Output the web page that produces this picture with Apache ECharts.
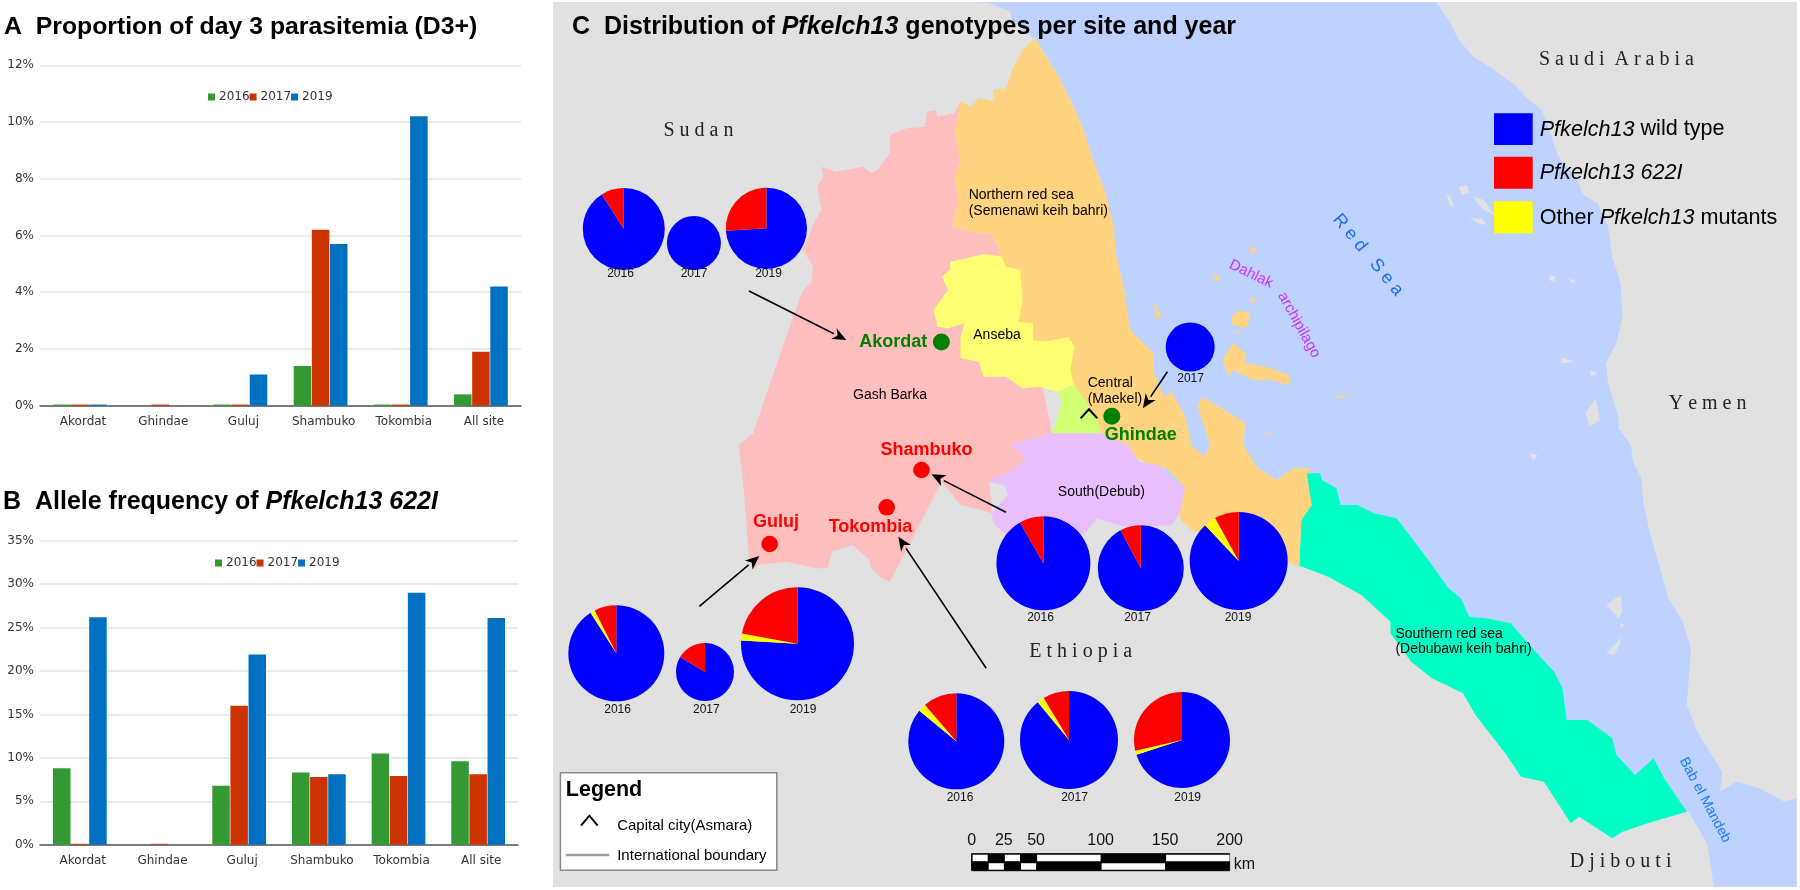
<!DOCTYPE html>
<html><head><meta charset="utf-8">
<style>html,body{margin:0;padding:0;background:#fff}#c{width:1800px;height:890px}</style>
<script src="https://cdn.jsdelivr.net/npm/echarts@6/dist/echarts.min.js"></script>
</head><body><div id="c"></div>
<script>
// ---------- data ----------
const categories = ['Akordat','Ghindae','Guluj','Shambuko','Tokombia','All site'];
const years = ['2016','2017','2019'];
const d3_2016 = [0.04,null,0.04,1.4,0.04,0.4];
const d3_2017 = [0.04,0.04,0.04,6.2,0.04,1.9];
const d3_2019 = [0.04,null,1.1,5.7,10.2,4.2];
const allele_2016 = [8.8,null,6.8,8.3,10.5,9.6];
const allele_2017 = [0.1,0.1,16,7.8,7.9,8.1];
const allele_2019 = [26.2,null,21.9,8.1,29,26.1];
const genotypes = ['Pfkelch13 wild type','Other Pfkelch13 mutants','Pfkelch13 622I'];
// [wild type, other mutants, 622I] in percent
const akordat2016 = [91,0,9];
const akordat2017 = [100,0,0];
const akordat2019 = [74,0,26];
const ghindae2017 = [100,0,0];
const shambuko2016 = [91.7,0,8.3];
const shambuko2017 = [92.2,0,7.8];
const shambuko2019 = [88,4,8];
const guluj2016 = [91,1.6,7.4];
const guluj2017 = [83.6,0,16.4];
const guluj2019 = [75.9,2,22.1];
const tokombia2016 = [86,2.7,11.3];
const tokombia2017 = [89,2.4,8.6];
const tokombia2019 = [70,1.4,28.6];

// ---------- layout ----------
const F='"Liberation Sans",Arial,sans-serif', S='"Liberation Serif",serif', D='"DejaVu Sans",sans-serif';
const Z3=[550,0],Z4=[1150,0],Z5=[550,445],Z6=[1150,445];
const z=(Zo,pts)=>pts.map(p=>[Zo[0]+p[0]/2.412,Zo[1]+p[1]/3]);
const pies=[
 [akordat2016,623.8,229,41,'2016',620.5,274],
 [akordat2017,693.9,243,27,'2017',694,274],
 [akordat2019,766.4,228.3,40.6,'2019',768.5,274],
 [ghindae2017,1190.2,347,24.5,'2017',1190.6,379],
 [shambuko2016,1043.4,563.3,47,'2016',1040.5,617.3],
 [shambuko2017,1140.8,568.3,43,'2017',1137.5,617.3],
 [shambuko2019,1238.7,561,49,'2019',1238,617.3],
 [guluj2016,616.3,653.3,48,'2016',617.6,710],
 [guluj2017,705,672,29,'2017',706.3,710],
 [guluj2019,797.5,643.7,56.5,'2019',803,709.3],
 [tokombia2016,956.3,741.3,48,'2016',960,797.7],
 [tokombia2017,1069,740,49,'2017',1074.5,797.7],
 [tokombia2019,1182,740,48,'2019',1187.7,797.7]
];
const g=[];
const poly=(pts,fill,zz)=>g.push({type:'polygon',silent:true,z:zz||1,shape:{points:pts},style:{fill}});
const txt=(x,y,text,o)=>g.push({type:'text',silent:true,z:20,x,y,rotation:(o.rot||0)*Math.PI/180,
  style:Object.assign({text,fill:o.color||'#000',font:undefined,fontFamily:o.ff||F,fontSize:o.size||14,fontWeight:o.w||'normal',
    align:o.align||'center',verticalAlign:'middle',rich:o.rich},{})});
const circ=(x,y,r,fill)=>g.push({type:'circle',silent:true,z:15,shape:{cx:x,cy:y,r},style:{fill}});
const line=(pts,color,w)=>g.push({type:'polyline',silent:true,z:16,shape:{points:pts},style:{stroke:color,lineWidth:w,fill:null}});
const rect=(x,y,w,h,fill,stroke,lw)=>g.push({type:'rect',silent:true,z:14,shape:{x,y,width:w,height:h},style:{fill,stroke,lineWidth:lw||0}});
const arrow=(x1,y1,x2,y2)=>{
  const a=Math.atan2(y2-y1,x2-x1),L=14,W=6,bx=x2-L*Math.cos(a),by=y2-L*Math.sin(a);
  line([[x1,y1],[bx,by]],'#000',1.6);
  g.push({type:'polygon',silent:true,z:16,shape:{points:[[x2,y2],[bx-W*Math.sin(a),by+W*Math.cos(a)],[x2-10*Math.cos(a),y2-10*Math.sin(a)],[bx+W*Math.sin(a),by-W*Math.cos(a)]]},style:{fill:'#000'}});
};
// panel + land
rect(553,2,1244,885,'#e1e1e1');g[g.length-1].z=0;
// sea
poly([[975,2],[1436,2]].concat(
 z(Z4,[[720,60],[745,120],[780,170],[830,210],[880,255],[905,290],[945,330],[965,400],[985,470],[1030,540],[1045,585],[1080,610],[1105,680],[1115,770],[1135,850],[1140,950],[1125,1030],[1100,1090],[1105,1150],[1130,1250],[1130,1285],[1160,1335]]),
 z(Z6,[[1165,50],[1185,100],[1190,170],[1205,260],[1230,370],[1250,460],[1285,530],[1305,610],[1300,690],[1295,780],[1320,860],[1380,980],[1375,1040],[1415,1010],[1470,1030],[1530,1070],[1560,1060],[1560,1325],[1360,1325],[1345,1200],[1300,1100],[1000,1000],[500,400],[100,200]]),
 z(Z3,[[1400,1250],[1300,1000],[1250,500],[1170,115],[1140,90],[1115,60],[1110,35],[1060,10]])),'#bed2ff',1);
// gray islands
[[[745,560],[765,555],[770,578],[752,585]],[[780,590],[805,600],[835,650],[800,625]],[[715,585],[725,590],[735,625],[722,615]],[[770,655],[800,655],[812,675],[790,670]],[[965,825],[978,830],[975,845],[962,840]],[[1010,835],[1030,845],[1015,848]],[[990,1072],[1025,1085],[995,1090]],[[1060,1110],[1080,1120],[1065,1130]],[[1050,1240],[1075,1195],[1085,1260],[1060,1280]]].forEach(p=>poly(z(Z4,p),'#e1e1e1',2));
[[[1100,480],[1135,450],[1140,500],[1130,520]],[[1100,625],[1140,575],[1120,630]],[[1135,535],[1145,540],[1135,550]],[[915,25],[935,30],[925,48]]].forEach(p=>poly(z(Z6,p),'#e1e1e1',2));
// southern red sea
poly(z(Z6,[[375,85],[410,85],[415,105],[450,130],[460,180],[500,180],[540,205],[595,220],[650,310],[680,360],[720,430],[750,460],[770,515],[810,520],[870,535],[930,620],[975,680],[995,730],[1005,825],[1055,825],[1115,880],[1125,930],[1170,990],[1215,940],[1240,1000],[1295,1100],[1200,1135],[1140,1160],[1115,1180],[1035,1115],[1015,1135],[950,1010],[895,995],[860,930],[785,810],[755,745],[680,700],[630,650],[580,565],[580,530],[510,450],[430,395],[360,362],[365,225],[390,180]]),'#00ffc5',3);
// northern red sea
poly([].concat(
 z(Z3,[[1170,115],[1195,165],[1225,225],[1260,310],[1290,400],[1310,480],[1340,580],[1360,680],[1365,760],[1385,870],[1400,990],[1455,1060],[1455,1110],[1480,1190],[1500,1175]]),
 z(Z4,[[85,1250],[100,1335]]),
 z(Z6,[[130,35],[145,0]]),
 z(Z4,[[115,1220],[125,1190],[180,1230],[230,1270],[225,1335]]),
 z(Z6,[[260,70],[305,105],[345,70],[390,70],[378,85],[390,180],[365,225],[360,362],[330,350],[100,255],[75,225],[70,200],[85,130],[40,70],[0,60]]),
 z(Z3,[[1300,1300],[1200,1100],[1060,900],[1085,745],[1060,700],[1030,700],[970,680],[985,600],[975,530],[990,480],[975,400],[990,305],[1015,320],[1035,295],[1070,305],[1070,270],[1100,265],[1115,210],[1140,150]])),'#ffd37f',4);
// Dahlak islands
[[[175,1080],[200,1030],[230,1060],[230,1090],[280,1100],[335,1125],[335,1155],[290,1140],[250,1140],[200,1110],[190,1130]],[[195,955],[215,930],[240,940],[235,985],[200,975]],[[240,895],[262,900],[245,910]],[[150,825],[170,830],[160,845]],[[240,740],[258,745],[245,765]],[[445,1190],[490,1180],[455,1195]],[[285,1295],[295,1300],[285,1305]],[[8,905],[28,950],[15,955]],[[205,990],[220,995],[210,1000]]].forEach(p=>poly(z(Z4,p),'#ffd37f',4));
// Gash Barka
poly([].concat(
 z(Z3,[[990,305],[975,340],[935,350],[930,330],[910,335],[905,380],[860,385],[820,405],[820,460],[790,510],[775,520],[755,500],[690,515],[655,500],[660,530],[645,560],[655,630],[640,660],[610,750],[635,800],[630,850],[610,870],[590,940],[550,1080],[520,1190],[490,1300],[455,1335]]),
 z(Z5,[[465,100],[480,340],[492,375],[500,360],[570,350],[640,370],[670,370],[680,320],[730,300],[770,345],[775,370],[800,400],[820,410],[945,110],[990,180],[1040,195],[1065,205],[1060,110],[1110,80],[1150,40],[1110,0]]),
 z(Z3,[[1210,1300],[1180,1100],[1060,900],[1085,745],[1060,700],[1030,700],[970,680],[985,600],[975,530],[990,480],[975,400]])),'#ffbebe',5);
// Anseba
poly(z(Z3,[[965,785],[1020,770],[1050,762],[1090,770],[1100,800],[1135,810],[1140,900],[1130,965],[1165,970],[1165,1020],[1195,1025],[1250,1010],[1265,1040],[1255,1110],[1265,1155],[1225,1175],[1180,1160],[1140,1165],[1100,1130],[1045,1130],[1035,1085],[990,1075],[990,1010],[1000,970],[960,985],[935,980],[925,930],[960,870],[945,830],[965,810]]),'#ffff73',6);
// Central
poly(z(Z3,[[1225,1175],[1265,1155],[1290,1200],[1320,1260],[1328,1300],[1395,1335],[1300,1340],[1210,1305],[1235,1210]]),'#d1ff73',7);
// South
poly([].concat(
 z(Z3,[[1110,1335],[1210,1300],[1330,1300],[1395,1335]]),
 z(Z5,[[1420,50],[1470,60],[1500,100],[1530,130],[1520,200],[1500,240],[1400,250],[1370,240],[1320,220],[1290,265],[1200,300],[1100,270],[1070,235],[1065,205],[1105,150],[1095,120],[1060,110],[1070,100],[1110,80],[1150,40]])),'#e8beff',8);

// titles
const titleRich=(sz)=>({b:{fontFamily:F,fontSize:sz,fontWeight:'bold',fill:'#000'},i:{fontFamily:F,fontSize:sz,fontWeight:'bold',fontStyle:'italic',fill:'#000'}});
txt(4,27,'{b|A  Proportion of day 3 parasitemia (D3+)}',{align:'left',rich:titleRich(24.8)});
txt(3,502,'{b|B  Allele frequency of }{i|Pfkelch13 622I}',{align:'left',rich:titleRich(25)});
txt(572,27,'{b|C  Distribution of }{i|Pfkelch13}{b| genotypes per site and year}',{align:'left',rich:titleRich(25)});
// countries
txt(698.4,130.7,'S u d a n',{ff:S,size:20,color:'#222'});
txt(1616.4,59.3,'S a u d i  A r a b i a',{ff:S,size:20,color:'#222'});
txt(1707.6,403.3,'Y e m e n',{ff:S,size:20,color:'#222'});
txt(1080.7,651.7,'E t h i o p i a',{ff:S,size:20,color:'#222'});
txt(1620.6,861.7,'D j i b o u t i',{ff:S,size:20,color:'#222'});
// water
txt(1368,255,'R e d   S e a',{size:18,color:'#1a6ef5',rot:-50.5});
txt(1251,274,'Dahlak',{size:15,color:'#cc33ff',rot:-26});
txt(1299,325,'archipilago',{size:15,color:'#cc33ff',rot:-61});
txt(1705,800,'Bab el Mandeb',{size:14,color:'#1a7cff',rot:-62});
// regions
txt(968.7,195,'Northern red sea',{align:'left'});
txt(968.7,211,'(Semenawi keih bahri)',{align:'left'});
txt(997,335,'Anseba',{});
txt(890,395,'Gash Barka',{});
txt(1087.7,383,'Central',{align:'left'});
txt(1087.7,399,'(Maekel)',{align:'left'});
txt(1101.4,491.7,'South(Debub)',{});
txt(1395.4,633.7,'Southern red sea',{align:'left'});
txt(1395.4,649.3,'(Debubawi keih bahri)',{align:'left'});
// sites
txt(893.3,341.7,'Akordat',{size:18,w:'bold',color:'#008000'});
circ(941.4,342,8.5,'#008000');
txt(1140.8,435,'Ghindae',{size:18,w:'bold',color:'#008000'});
circ(1111.8,416.3,8.5,'#008000');
txt(926.5,450,'Shambuko',{size:18,w:'bold',color:'#ff0000'});
circ(921.5,470,8.3,'#ff0000');
txt(870.5,526.7,'Tokombia',{size:18,w:'bold',color:'#ff0000'});
circ(886.7,507.3,8.3,'#ff0000');
txt(776,522.3,'Guluj',{size:18,w:'bold',color:'#ff0000'});
circ(769.7,544,8.3,'#ff0000');
line([[1080.7,418.3],[1089,409.3],[1097.3,418.3]],'#000',2);
// arrows
arrow(749,291,846.4,340);
arrow(1167.4,371.7,1142.9,408.3);
arrow(1006,512.3,931.4,474.3);
arrow(699.3,606.3,759.4,556);
arrow(986.2,668.3,898.3,536.7);
// pie labels
pies.forEach(p=>txt(p[5],p[6],p[4],{size:12,color:'#111'}));
// genotype key
const LS=21.6;
const keyRich={n:{fontFamily:F,fontSize:LS,fill:'#000'},i:{fontFamily:F,fontSize:LS,fontStyle:'italic',fill:'#000'}};
rect(1494,113.3,38.7,31.7,'#0000ff');
rect(1494,156.7,38.7,32,'#ff0000');
rect(1494,201.3,38.7,32,'#ffff00');
txt(1539.7,129.5,'{i|Pfkelch13}{n| wild type}',{align:'left',rich:keyRich});
txt(1539.7,173,'{i|Pfkelch13 622I}',{align:'left',rich:keyRich});
txt(1539.7,218,'{n|Other }{i|Pfkelch13}{n| mutants}',{align:'left',rich:keyRich});
// map legend box
rect(560.4,772.7,216.4,97.6,'#fff','#888',1.5);
txt(565.8,790,'Legend',{align:'left',size:21.5,w:'bold'});
line([[581,825.7],[589.4,815.7],[597.7,825.7]],'#000',2);
txt(617.2,826,'Capital city(Asmara)',{align:'left',size:15});
line([[565.8,855],[609.3,855]],'#a0a0a0',2.5);
txt(617.2,855.7,'International boundary',{align:'left',size:15});
// scale bar
const sx=971.6,k=258/200,sy=853.7,sh=8.5;
const scaleBreaks=[0,12.5,25,37.5,50,100,150,200];
rect(sx,sy,258,sh*2,'#000','#000',1);
for(let i=0;i<scaleBreaks.length-1;i++){
  const a=sx+scaleBreaks[i]*k,w=(scaleBreaks[i+1]-scaleBreaks[i])*k;
  if(i%2===0) rect(a+1,sy+1,w-1,sh-2,'#fff'); else rect(a+1,sy+sh+1,w-1,sh-2,'#fff');
  g[g.length-1].z=15;
}
[0,25,50,100,150,200].forEach(v=>txt(sx+v*k,841,String(v),{size:16,color:'#111'}));
txt(1244.5,865,'km',{size:16,color:'#111'});

// ---------- option ----------
const barColors=['#339933','#cc3300','#0070c0'];
const axisX=(i)=>({type:'category',gridIndex:i,data:categories,axisTick:{show:false},
  axisLine:{lineStyle:{color:'#555',width:1.5}},
  axisLabel:{fontFamily:D,fontSize:12,color:'#333',margin:10,padding:[0,0,0,6],interval:0}});
const axisY=(i,max,step)=>({type:'value',gridIndex:i,min:0,max,interval:step,axisLine:{show:false},axisTick:{show:false},
  splitLine:{lineStyle:{color:'#e3e3e3',width:1.5}},
  axisLabel:{fontFamily:D,fontSize:12,color:'#333',margin:6,formatter:'{value}%'}});
const bars=(i,arr)=>arr.map((d,j)=>({type:'bar',name:years[j],xAxisIndex:i,yAxisIndex:i,data:d,barWidth:17.5,barGap:'3.5%',
  itemStyle:{color:barColors[j]},silent:true,animation:false}));
const leg=(left,top)=>({left,top,data:years,icon:'rect',itemWidth:7,itemHeight:7,itemGap:0,padding:0,selectedMode:false,
  textStyle:{fontFamily:D,fontSize:12,color:'#333',padding:[0,0,0,-1]}});
const pieSeries=pies.map(p=>({type:'pie',center:[p[1],p[2]],radius:[0,p[3]],startAngle:90,clockwise:true,silent:true,animation:false,
  label:{show:false},labelLine:{show:false},z:10,
  data:p[0].map((v,i)=>({name:genotypes[i],value:v,itemStyle:{color:['#0000ff','#ffff00','#ff0000'][i]}}))}));
const chart=echarts.init(document.getElementById('c'),null,{renderer:'canvas',width:1800,height:890});
chart.setOption({
  animation:false,backgroundColor:'#fff',
  grid:[{left:40,top:65.3,width:481,height:340.4,containLabel:false},{left:40,top:540.7,width:478,height:304,containLabel:false}],
  xAxis:[axisX(0),axisX(1)],
  yAxis:[axisY(0,12,2),axisY(1,35,5)],
  legend:[leg(208,91),leg(215,557)],
  series:[...bars(0,[d3_2016,d3_2017,d3_2019]),...bars(1,[allele_2016,allele_2017,allele_2019]),...pieSeries],
  graphic:{elements:g}
});
</script></body></html>
